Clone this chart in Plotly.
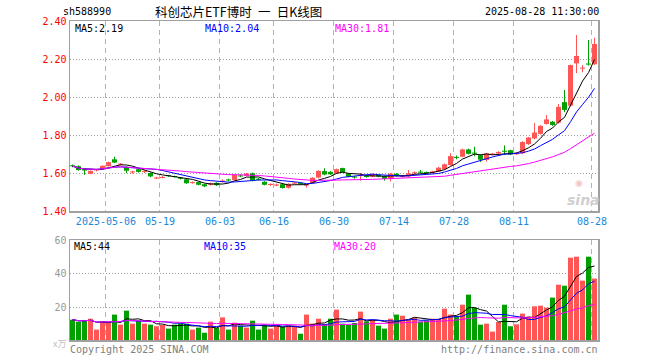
import plotly.graph_objects as go
import pandas as pd

# ---------------- data ----------------
dates = (
    ["2025-04-%02d" % d for d in [23, 24, 25, 28, 29, 30]]
    + ["2025-05-%02d" % d for d in [6, 7, 8, 9, 12, 13, 14, 15, 16, 19, 20, 21, 22, 23, 26, 27, 28, 29, 30]]
    + ["2025-06-%02d" % d for d in [3, 4, 5, 6, 9, 10, 11, 12, 13, 16, 17, 18, 19, 20, 23, 24, 25, 26, 27, 30]]
    + ["2025-07-%02d" % d for d in [1, 2, 3, 4, 7, 8, 9, 10, 11, 14, 15, 16, 17, 18, 21, 22, 23, 24, 25, 28, 29, 30, 31]]
    + ["2025-08-%02d" % d for d in [1, 4, 5, 6, 7, 8, 11, 12, 13, 14, 15, 18, 19, 20, 21, 22, 25, 26, 27, 28]]
)

open_ = [
    1.640, 1.636, 1.620, 1.596, 1.614, 1.623,
    1.636, 1.672, 1.645, 1.632, 1.603, 1.620, 1.606, 1.600, 1.572, 1.575, 1.588, 1.583, 1.575, 1.567,
    1.548, 1.552, 1.541, 1.538, 1.548,
    1.554, 1.565, 1.563, 1.587, 1.585, 1.598, 1.569, 1.554, 1.538, 1.535, 1.541, 1.522, 1.545, 1.546,
    1.535, 1.548, 1.576, 1.610, 1.606, 1.598,
    1.626, 1.598, 1.581, 1.585, 1.583, 1.581, 1.590, 1.583, 1.571, 1.596, 1.581, 1.582, 1.599, 1.606,
    1.604, 1.600, 1.608, 1.620, 1.642, 1.684, 1.686, 1.724, 1.706,
    1.694, 1.669, 1.698, 1.703, 1.717, 1.720, 1.699, 1.704, 1.752, 1.782, 1.806, 1.858, 1.870, 1.865,
    1.973, 1.954, 2.177, 2.150, 2.175, 2.172,
]
close = [
    1.636, 1.616, 1.613, 1.611, 1.618, 1.638,
    1.657, 1.655, 1.648, 1.612, 1.608, 1.606, 1.609, 1.582, 1.575, 1.578, 1.584, 1.580, 1.570, 1.546,
    1.551, 1.538, 1.530, 1.546, 1.536,
    1.560, 1.562, 1.590, 1.582, 1.597, 1.562, 1.566, 1.538, 1.541, 1.538, 1.521, 1.543, 1.548, 1.543,
    1.538, 1.575, 1.611, 1.592, 1.593, 1.620,
    1.605, 1.580, 1.576, 1.589, 1.580, 1.594, 1.582, 1.569, 1.596, 1.585, 1.584, 1.598, 1.603, 1.603,
    1.601, 1.608, 1.628, 1.646, 1.689, 1.680, 1.724, 1.701, 1.703,
    1.670, 1.703, 1.701, 1.711, 1.712, 1.698, 1.703, 1.763, 1.787, 1.813, 1.848, 1.882, 1.853, 1.948,
    1.932, 2.168, 2.216, 2.154, 2.172, 2.279,
]
high = [
    1.644, 1.640, 1.622, 1.613, 1.622, 1.640,
    1.660, 1.686, 1.652, 1.635, 1.612, 1.622, 1.614, 1.603, 1.580, 1.584, 1.590, 1.586, 1.578, 1.570,
    1.556, 1.555, 1.544, 1.550, 1.551,
    1.566, 1.570, 1.593, 1.592, 1.600, 1.602, 1.574, 1.557, 1.546, 1.544, 1.544, 1.546, 1.553, 1.550,
    1.542, 1.578, 1.614, 1.625, 1.610, 1.623,
    1.628, 1.600, 1.584, 1.600, 1.588, 1.597, 1.593, 1.586, 1.599, 1.600, 1.590, 1.616, 1.608, 1.616,
    1.608, 1.612, 1.632, 1.650, 1.704, 1.692, 1.728, 1.728, 1.738,
    1.697, 1.706, 1.705, 1.714, 1.745, 1.722, 1.708, 1.768, 1.790, 1.863, 1.852, 1.905, 1.874, 1.963,
    2.037, 2.170, 2.326, 2.168, 2.300, 2.312,
]
low = [
    1.630, 1.612, 1.590, 1.594, 1.608, 1.620,
    1.634, 1.652, 1.640, 1.599, 1.596, 1.602, 1.600, 1.578, 1.568, 1.572, 1.580, 1.576, 1.566, 1.543,
    1.544, 1.535, 1.526, 1.534, 1.532,
    1.550, 1.557, 1.560, 1.578, 1.582, 1.556, 1.560, 1.535, 1.532, 1.530, 1.518, 1.518, 1.540, 1.538,
    1.523, 1.545, 1.572, 1.588, 1.590, 1.595,
    1.602, 1.577, 1.570, 1.560, 1.575, 1.578, 1.578, 1.560, 1.555, 1.582, 1.576, 1.579, 1.594, 1.599,
    1.597, 1.597, 1.605, 1.617, 1.638, 1.672, 1.683, 1.698, 1.688,
    1.658, 1.660, 1.694, 1.700, 1.695, 1.694, 1.695, 1.700, 1.748, 1.778, 1.802, 1.855, 1.848, 1.860,
    1.920, 1.950, 2.125, 2.130, 2.165, 2.168,
]
volume = [
    12.3, 11.1, 11.5, 12.9, 6.3, 11.5, 10.3, 15.4, 9.3, 17.8, 9.9, 11.7, 9.9, 9.3, 8.3, 9.1, 6.9, 9.3,
    10.1, 9.9, 6.3, 7.5, 4.4, 11.1, 7.3, 13.7, 6.3, 10.5, 8.7, 7.5, 11.7, 6.3, 9.1, 6.9, 8.7, 8.1, 8.7,
    8.7, 3.8, 15.4, 9.9, 12.9, 9.7,
    12.9, 18.4, 9.9, 9.1, 10.3, 17.2, 11.3, 12.1, 8.7, 6.9, 12.9, 15.4, 14.7, 12.3, 13.5, 11.1, 11.9,
    12.9, 12.9, 19.0, 15.4, 14.3, 21.4, 27.5, 19.6, 9.3, 9.9, 5.1, 10.9, 21.4, 8.3, 9.5, 16.0, 14.1,
    20.4, 20.8, 19.6, 25.7, 33.5, 32.9, 49.9, 50.5, 36.0, 50.5, 37.2,
]

tick_dates = ["2025-05-06", "2025-05-19", "2025-06-03", "2025-06-16", "2025-06-30",
              "2025-07-14", "2025-07-28", "2025-08-11", "2025-08-28"]
tick_labels = ["2025-05-06", "05-19", "06-03", "06-16", "06-30", "07-14", "07-28", "08-11", "08-28"]
price_ticks = [1.40, 1.60, 1.80, 2.00, 2.20, 2.40]
volume_ticks = [20, 40, 60]

symbol = "sh588990"
title_text = "科创芯片ETF博时\u2002一\u2002日K线图"
stamp = "2025-08-28 11:30:00"
price_ma_labels = ["MA5:2.19", "MA10:2.04", "MA30:1.81"]
volume_ma_labels = ["MA5:44", "MA10:35", "MA30:20"]

# ---------------- styling ----------------
UP = "#FF5555"
DOWN = "#00A000"
MA_COLORS = ["#000000", "#0000FF", "#FF00FF"]
FRAME = "#A0A0A0"
MONO = "DejaVu Sans Mono"

W, H = 660, 360
L, R, T, B = 70, 62, 21, 20
PW, PH = W - L - R, H - T - B


def px_x(px):
    return (px - L) / PW


def px_y(py):
    return (H - B - py) / PH


n = len(dates)
xs = list(range(n))
up = [c >= o for o, c in zip(open_, close)]
colors = [UP if u else DOWN for u in up]

cs = pd.Series(close)
vs = pd.Series(volume)
price_ma = [cs.rolling(k, min_periods=1).mean() for k in (5, 10, 30)]
vol_ma = [vs.rolling(k, min_periods=1).mean() for k in (5, 10, 30)]

min_body = 0.0055
body_base, body_h = [], []
for o, c in zip(open_, close):
    h = abs(c - o)
    if h < min_body:
        mid = (o + c) / 2
        body_base.append(mid - min_body / 2)
        body_h.append(min_body)
    else:
        body_base.append(min(o, c))
        body_h.append(h)

fig = go.Figure()

# wicks
for flag, col in ((True, UP), (False, DOWN)):
    wx, wy = [], []
    for i in xs:
        if up[i] == flag:
            wx += [i, i, None]
            wy += [low[i], high[i], None]
    fig.add_trace(go.Scatter(x=wx, y=wy, mode="lines", line=dict(color=col, width=1),
                             xaxis="x", yaxis="y", hoverinfo="skip"))

# bodies
fig.add_trace(go.Bar(x=xs, y=body_h, base=body_base, width=0.83, marker=dict(color=colors, line=dict(width=0)),
                     xaxis="x", yaxis="y", hoverinfo="skip"))

# price MAs
for ma, col in zip(price_ma, MA_COLORS):
    fig.add_trace(go.Scatter(x=xs, y=ma, mode="lines", line=dict(color=col, width=1),
                             xaxis="x", yaxis="y", hoverinfo="skip"))

# volume
fig.add_trace(go.Bar(x=xs, y=volume, width=0.83, marker=dict(color=colors, line=dict(width=0)),
                     xaxis="x2", yaxis="y2", hoverinfo="skip"))
for ma, col in zip(vol_ma, MA_COLORS):
    fig.add_trace(go.Scatter(x=xs, y=ma, mode="lines", line=dict(color=col, width=1),
                             xaxis="x2", yaxis="y2", hoverinfo="skip"))

tick_pos = [dates.index(d) - 0.42 for d in tick_dates]
xrange_ = [-(72.5 - L) / 6, -(72.5 - L) / 6 + PW / 6]

common_x = dict(range=xrange_, tickvals=tick_pos, showgrid=True, gridcolor="#B4B4B4",
                griddash="5px,4px", gridwidth=1, zeroline=False, showline=True, mirror=True,
                linecolor=FRAME, linewidth=1.5, ticks="", fixedrange=True)

fig.update_layout(
    width=W, height=H, margin=dict(l=L, r=R, t=T, b=B),
    paper_bgcolor="white", plot_bgcolor="white", showlegend=False, hovermode=False,
    barmode="overlay",
    xaxis=dict(common_x, anchor="y", ticktext=tick_labels, showticklabels=True,
               tickfont=dict(family=MONO, size=10, color="#1A88D8")),
    xaxis2=dict(common_x, anchor="y2", matches="x", showticklabels=False),
    yaxis=dict(domain=[px_y(211), 1.0], range=[1.40, 2.40], tickvals=price_ticks,
               ticktext=["%.2f" % v for v in price_ticks], showgrid=True, gridcolor="#A0A0A0",
               griddash="1px,2px", zeroline=False, showline=True, mirror=True, linecolor=FRAME,
               linewidth=1.5, ticks="", tickfont=dict(family=MONO, size=10, color="#FF0000"),
               fixedrange=True),
    yaxis2=dict(domain=[0.0, px_y(240)], range=[0, 60.6], tickvals=volume_ticks,
                ticktext=[str(v) for v in volume_ticks], showgrid=True, gridcolor="#A0A0A0",
                griddash="1px,2px", zeroline=False, showline=True, mirror=True, linecolor=FRAME,
                linewidth=1.5, ticks="", tickfont=dict(family=MONO, size=10, color="#999999"),
                fixedrange=True),
)

ann = []


def text(s, px, py, xanchor="left", color="#000000", size=10, family=MONO, **kw):
    ann.append(dict(text=s, x=px_x(px), y=px_y(py), xref="paper", yref="paper",
                    xanchor=xanchor, yanchor="middle", showarrow=False,
                    font=dict(family=family, size=size, color=color), borderpad=0, **kw))


text(symbol, 62, 12)
text(title_text, 238, 12, xanchor="center", size=12.5, family="Noto Sans CJK SC")
text(stamp, 600, 12, xanchor="right")
for lbl, x0, col in zip(price_ma_labels, (74, 204, 334), MA_COLORS):
    text(lbl, x0, 28, color=col)
for lbl, x0, col in zip(volume_ma_labels, (73, 203, 333), MA_COLORS):
    text(lbl, x0, 247, color=col)
text("Copyright 2025 SINA.COM", 69, 349, color="#808080")
text("http://finance.sina.com.cn", 599, 349, xanchor="right", color="#808080")
text("x万", 59, 343, xanchor="center", color="#C0C0C0", size=9, family="Noto Sans CJK SC")
text("<b><i>sina</i></b>", 583, 200, xanchor="center", color="#CFCFCF", size=14, family="DejaVu Sans")
text("◉", 579, 183, xanchor="center", color="#F2C4C4", size=9, family="DejaVu Sans")

fig.update_layout(annotations=ann)
fig.write_html("out.html", config={"displayModeBar": False, "staticPlot": True},
               post_script="document.body.style.margin='0px';")
